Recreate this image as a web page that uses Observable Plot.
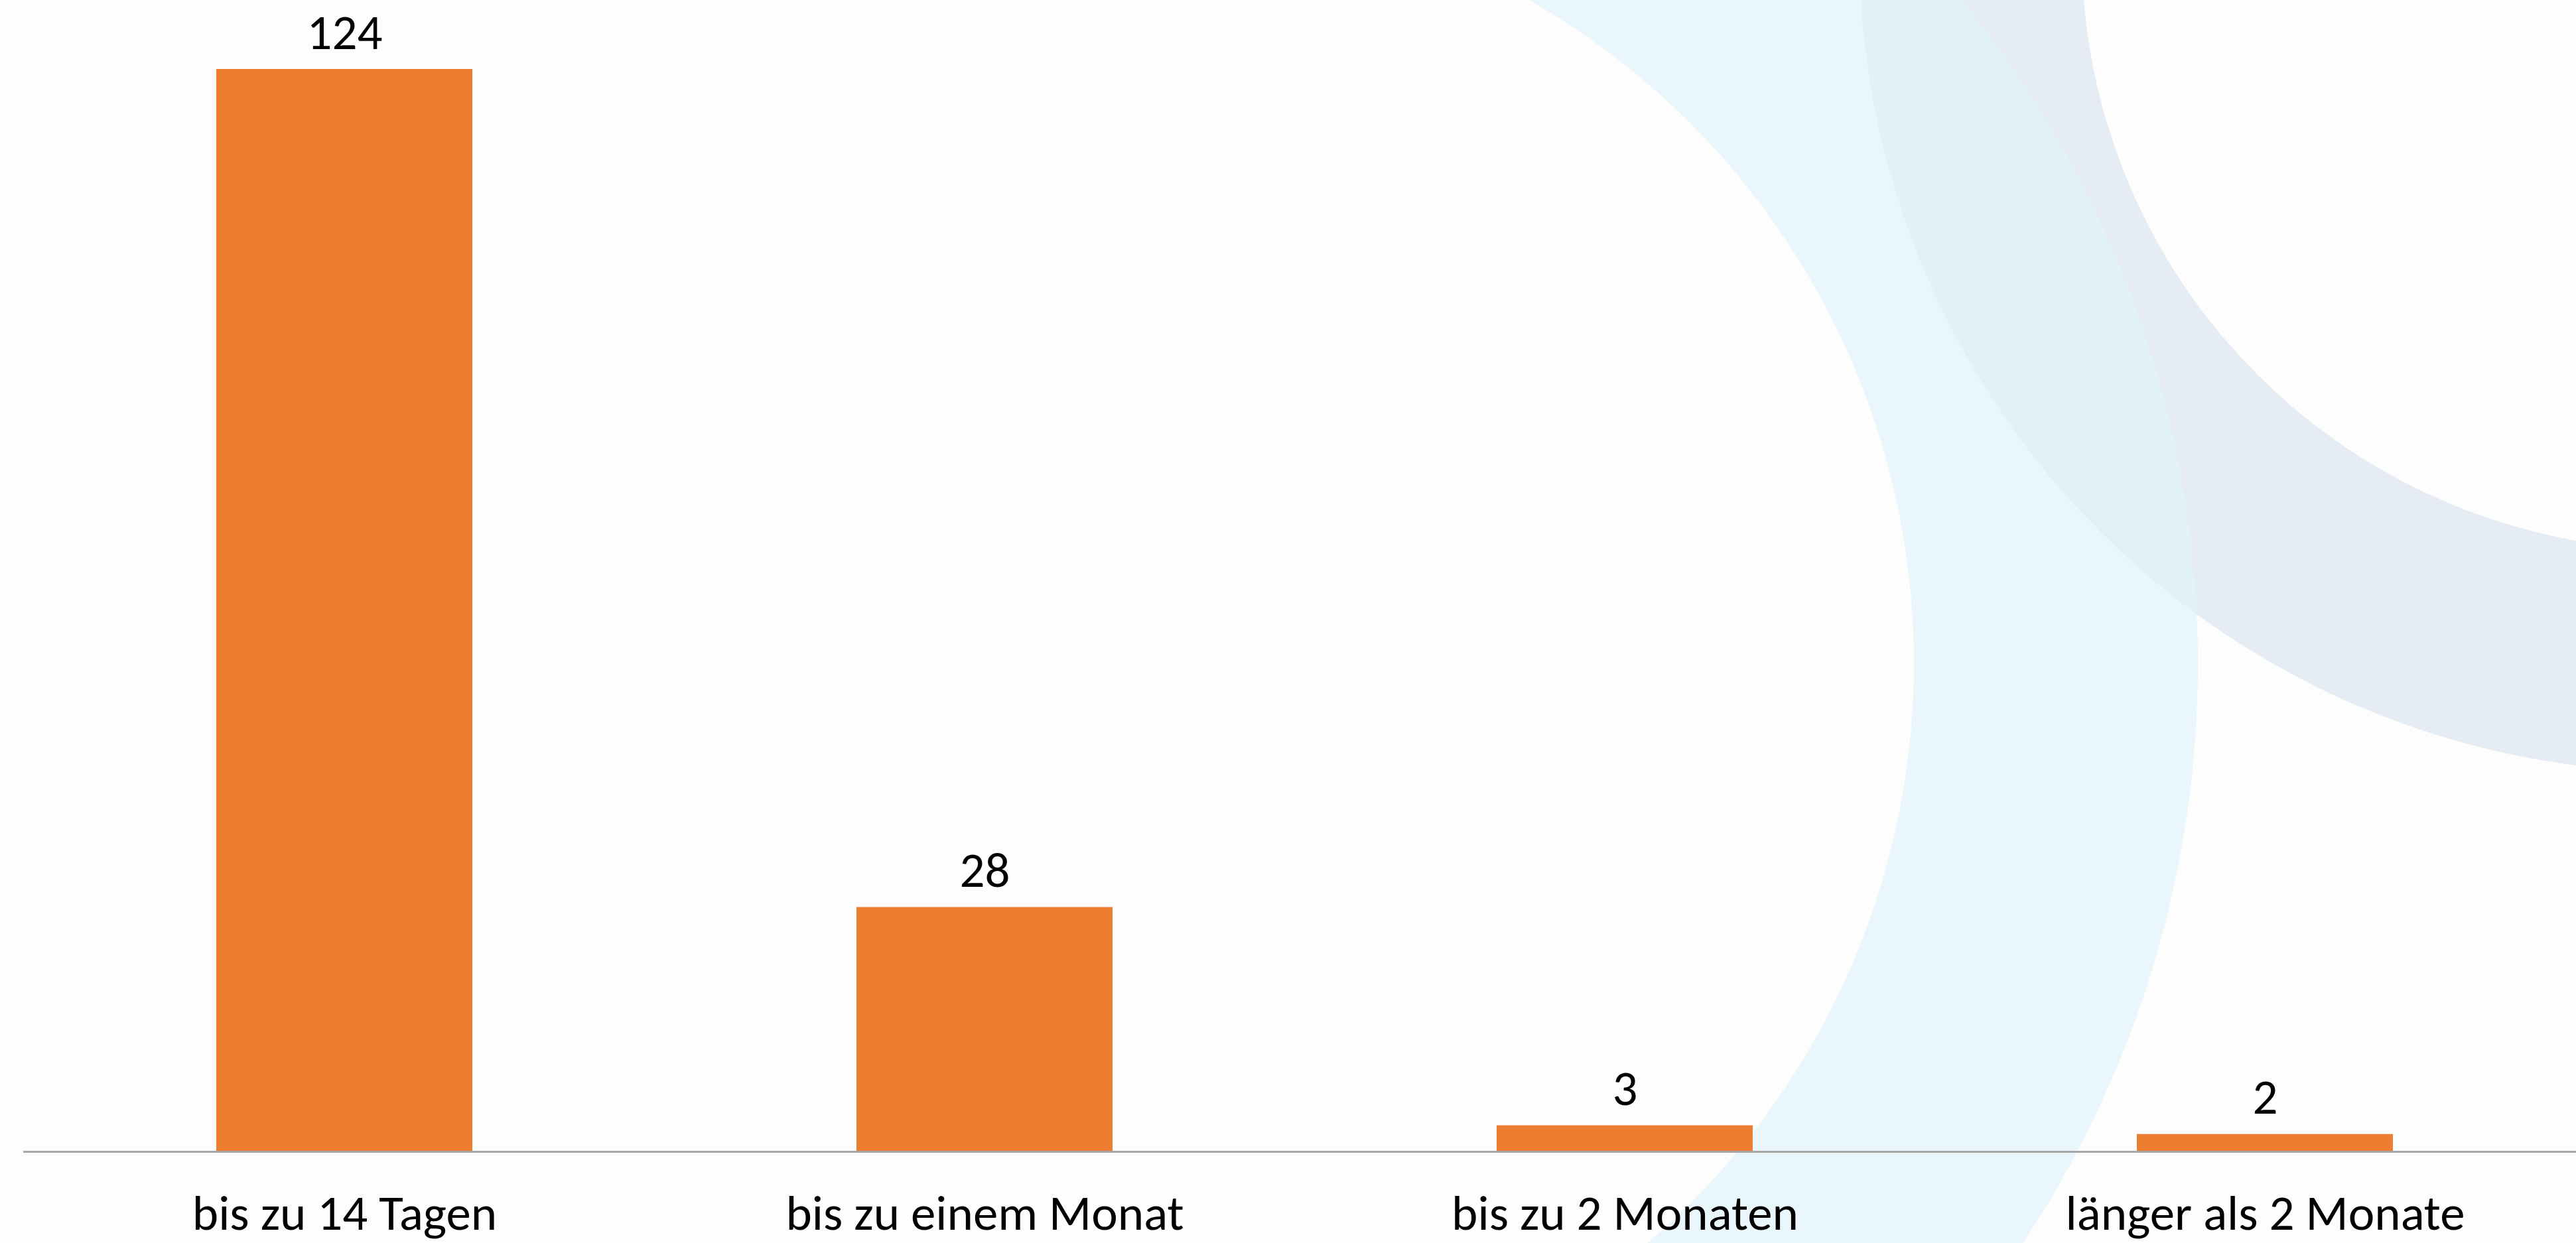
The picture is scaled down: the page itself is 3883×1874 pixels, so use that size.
<!DOCTYPE html>
<html><head><meta charset="utf-8">
<script src="https://cdn.jsdelivr.net/npm/d3@7"></script>
<script src="https://cdn.jsdelivr.net/npm/@observablehq/plot@0.6"></script>
<style>html,body{margin:0;padding:0;background:#fdfdfd;} svg{display:block}</style>
</head><body><div id="chart"></div>
<script>
const categories = ["bis zu 14 Tagen", "bis zu einem Monat", "bis zu 2 Monaten", "länger als 2 Monate"];
const values = [124, 28, 3, 2];
const data = categories.map((c, i) => ({category: c, value: values[i]}));

const W = 3883, H = 1874;
const font = "Carlito, Calibri, Lato, sans-serif";

// decorative background rings
function backdrop() {
  const g = d3.create("svg:g");
  const gray = d3.arc().innerRadius(903).outerRadius(1238).startAngle(0).endAngle(2 * Math.PI);
  g.append("path").attr("d", gray({})).attr("transform", "translate(4041,-74)").attr("fill", "#e5ecf3");
  const cyan = d3.arc().innerRadius(1152).outerRadius(1580).startAngle(0).endAngle(Math.PI);
  g.append("path").attr("d", cyan({})).attr("transform", "translate(1733,1000)").attr("fill", "#e0f3fa").attr("fill-opacity", 0.72);
  return g.node();
}

const chart = Plot.plot({
  width: W, height: H,
  marginTop: 104, marginBottom: 138, marginLeft: 35, marginRight: 0,
  style: {background: "#fdfdfd", fontFamily: font, color: "#000"},
  x: {domain: categories, range: [35, 3898], paddingInner: 0.6, paddingOuter: 0.3, label: null},
  y: {domain: [0, 124], axis: null},
  marks: [
    backdrop,
    Plot.barY(data, {x: "category", y: "value", fill: "#ED7D31"}),
    Plot.ruleY([0], {stroke: "#a6a6a6", strokeWidth: 3}),
    Plot.text(data, {x: "category", y: "value", text: d => String(d.value), dy: -31, lineAnchor: "bottom", fontSize: 75, fill: "#000"}),
    Plot.axisX({tickSize: 0, tickPadding: 64, fontSize: 75, label: null, fill: "#000"})
  ]
});
document.getElementById("chart").appendChild(chart);
</script>
</body></html>
